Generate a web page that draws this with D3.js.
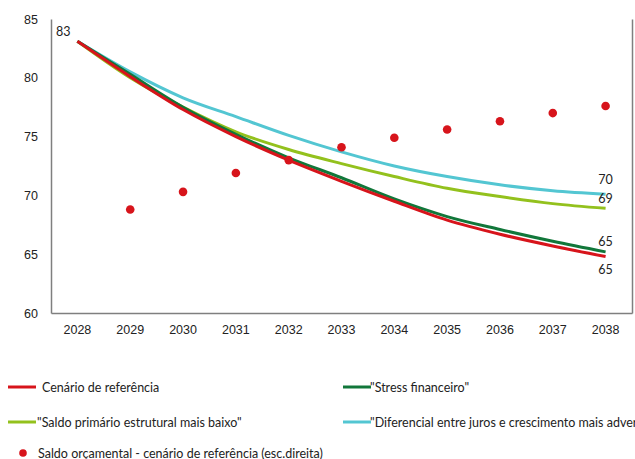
<!DOCTYPE html>
<html>
<head>
<meta charset="UTF-8">
<style>
body { margin: 0 ; background: #fff ; }
svg { display: block ; font-family: Lato, "Open Sans", sans-serif ; }
.tick text { font-size: 12.5px ; fill: #222 ; }
.lbl { font-size: 12.5px ; fill: #222 ; }
.leg { font-size: 12.5px ; fill: #222 ; }
</style>
<script src="https://cdn.jsdelivr.net/npm/d3@7/dist/d3.min.js"></script>
</head>
<body>
<div id="chart"></div>
<script>
// data
const years = [2028, 2029, 2030, 2031, 2032, 2033, 2034, 2035, 2036, 2037, 2038]
const referencia = [83.1, 80.1, 77.3, 75.0, 73.0, 71.2, 69.5, 67.9, 66.7, 65.7, 64.8]
const stress = [83.1, 80.3, 77.5, 75.2, 73.2, 71.5, 69.7, 68.2, 67.1, 66.1, 65.2]
const saldoBaixo = [83.1, 80.0, 77.5, 75.4, 73.9, 72.7, 71.6, 70.6, 69.9, 69.3, 68.9]
const diferencial = [83.1, 80.5, 78.3, 76.7, 75.1, 73.7, 72.5, 71.6, 70.9, 70.4, 70.1]
// right axis (esc. direita) — read in left-axis units, ticks not shown
const saldoOrc = [null, 68.8, 70.3, 71.9, 73.0, 74.1, 74.9, 75.6, 76.3, 77.0, 77.6]
const yTicks = [60, 65, 70, 75, 80, 85]

const series = [
	{ name: "Cenário de referência", values: referencia, color: "#d7141b", end: "65", dy: 17 },
	{ name: "\"Stress financeiro\"", values: stress, color: "#11773a", end: "65", dy: -6 },
	{ name: "\"Saldo primário estrutural mais baixo\"", values: saldoBaixo, color: "#93c11d", end: "69", dy: -5 },
	{ name: "\"Diferencial entre juros e crescimento mais adverso\"", values: diferencial, color: "#53c6d2", end: "70", dy: -10 }
]

const W = 635, H = 459
const mLeft = 51, mRight = 632, mTop = 19, mBottom = 313

const svg = d3.select("#chart").append("svg")
	.attr("width", W).attr("height", H)

const x = d3.scaleBand().domain(years).range([mLeft, mRight]).padding(0)
const cx = function(i) { return x(years[i]) + x.bandwidth() / 2 }
const y = d3.scaleLinear().domain([60, 85]).range([mBottom, mTop])
const y2 = d3.scaleLinear().domain([60, 85]).range([mBottom, mTop])

// axes
const yAxis = svg.append("g").attr("transform", "translate(" + mLeft + ",0)")
	.call(d3.axisLeft(y).tickValues(yTicks).tickSize(0).tickPadding(13))
yAxis.select(".domain").attr("stroke", "#7f7f7f").attr("stroke-width", 1.5)

const xAxis = svg.append("g").attr("transform", "translate(0," + mBottom + ")")
	.call(d3.axisBottom(x).tickSize(0).tickPadding(12).tickFormat(d3.format("d")))
xAxis.select(".domain").attr("stroke", "#7f7f7f").attr("stroke-width", 1.5)

const y2Axis = svg.append("g").attr("transform", "translate(" + mRight + ",0)")
	.call(d3.axisRight(y2).tickValues([]).tickSize(0))
y2Axis.select(".domain").attr("stroke", "#7f7f7f").attr("stroke-width", 1.5)

// lines (draw light first so red/green sit on top)
const line = d3.line()
	.x(function(d, i) { return cx(i) })
	.y(function(d) { return y(d) })
	.curve(d3.curveMonotoneX)

const drawOrder = [series[3], series[2], series[1], series[0]]
drawOrder.forEach(function(s) {
	svg.append("path")
		.datum(s.values)
		.attr("fill", "none")
		.attr("stroke", s.color)
		.attr("stroke-width", 3)
		.attr("d", line)
})

// dots
const dots = saldoOrc.map(function(v, i) { return { i: i, v: v } })
	.filter(function(d) { return d.v !== null })
svg.selectAll("circle.dot")
	.data(dots)
	.enter()
	.append("circle")
		.attr("class", "dot")
		.attr("r", 4.3)
		.attr("fill", "#d7141b")
		.attr("cx", function(d) { return cx(d.i) })
		.attr("cy", function(d) { return y2(d.v) })

// end labels
const last = years.length - 1
series.forEach(function(s) {
	svg.append("text").attr("class", "lbl")
		.attr("x", cx(last))
		.attr("y", y(s.values[last]) + s.dy)
		.attr("text-anchor", "middle")
		.text(s.end)
})
svg.append("text").attr("class", "lbl")
	.attr("x", cx(0) - 7)
	.attr("y", y(referencia[0]) - 5)
	.attr("text-anchor", "end")
	.text(Math.round(referencia[0]))

// legend
const legPos = [[8, 387, 34], [343, 387, 27], [8, 422, 29], [343, 422, 27]]
series.forEach(function(s, i) {
	const p = legPos[i]
	const g = svg.append("g").attr("transform", "translate(" + p[0] + "," + p[1] + ")")
	g.append("line").attr("x1", 0).attr("x2", 28).attr("y1", 0).attr("y2", 0)
		.attr("stroke", s.color).attr("stroke-width", 3)
	g.append("text").attr("class", "leg")
		.attr("x", p[2]).attr("y", 4.5).text(s.name)
})
const g3 = svg.append("g").attr("transform", "translate(23,453)")
g3.append("circle").attr("r", 3.8).attr("fill", "#d7141b")
g3.append("text").attr("class", "leg").attr("x", 15).attr("y", 4.5)
	.text("Saldo orçamental -  cenário de referência (esc.direita)")
</script>
</body>
</html>
